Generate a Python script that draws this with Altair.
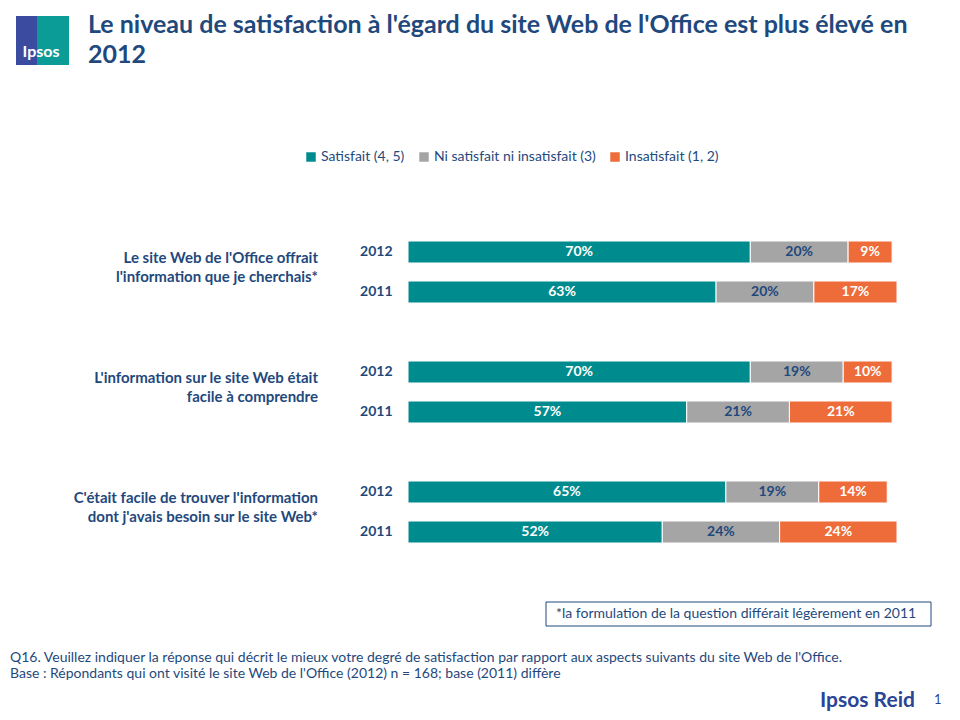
import altair as alt
import pandas as pd

# ---- data ----
groups = [
    "Le site Web de l'Office offrait\nl'information que je cherchais*",
    "L'information sur le site Web était\nfacile à comprendre",
    "C'était facile de trouver l'information\ndont j'avais besoin sur le site Web*",
]
years = ["2012", "2011"]
categories = ["Satisfait (4, 5)", "Ni satisfait ni insatisfait (3)", "Insatisfait (1, 2)"]
colors = ["#008C8F", "#A5A5A5", "#EE6B3A"]
satisfait = [70, 63, 70, 57, 65, 52]
neutre = [20, 20, 19, 21, 19, 24]
insatisfait = [9, 17, 10, 21, 14, 24]

row_domain = ["1|2012", "1|2011", "s1", "2|2012", "2|2011", "s2", "3|2012", "3|2011"]

rows = []
for gi, g in enumerate(groups):
    for yi, yr in enumerate(years):
        k = gi * 2 + yi
        key = f"{gi+1}|{yr}"
        for ci, (cat, vals) in enumerate(zip(categories, [satisfait, neutre, insatisfait])):
            rows.append({"row": key, "cat": cat, "order": ci, "value": vals[k],
                         "label": f"{vals[k]}%"})
df = pd.DataFrame(rows)
gdf = pd.DataFrame({"row": [f"{i+1}|2012" for i in range(3)], "group": groups})

DARK = "#1F497D"
FONT = "Lato"

yenc = alt.Y("row:N", scale=alt.Scale(domain=row_domain, paddingInner=0.45, paddingOuter=0.225),
             axis=alt.Axis(title=None, ticks=False, domain=False, labelPadding=16,
                           labelExpr="indexof(datum.value,'|')>0 ? split(datum.value,'|')[1] : ''",
                           labelFont=FONT, labelFontSize=14, labelFontWeight="bold",
                           labelColor=DARK))
xscale = alt.Scale(domain=[0, 100], nice=False)

base = alt.Chart(df).transform_stack(
    stack="value", groupby=["row"], sort=[alt.SortField("order")], as_=["x0", "x1"]
).transform_calculate(mid="(datum.x0+datum.x1)/2")

bars = base.mark_bar(stroke="white", strokeWidth=1).encode(
    x=alt.X("x0:Q", scale=xscale, axis=None),
    x2="x1:Q",
    y=yenc,
    color=alt.Color("cat:N", scale=alt.Scale(domain=categories, range=colors),
                    legend=alt.Legend(title=None, orient="none", direction="horizontal",
                                      legendX=-104, legendY=-82, symbolType="square",
                                      symbolSize=90, symbolStrokeWidth=0, labelFont=FONT,
                                      labelFontSize=14, labelColor=DARK, labelOffset=3,
                                      labelLimit=400, columnPadding=12)),
)

labels = base.mark_text(font=FONT, fontSize=14, fontWeight="bold", baseline="middle").encode(
    x=alt.X("mid:Q", scale=xscale),
    y=alt.Y("row:N", scale=alt.Scale(domain=row_domain)),
    text="label:N",
    color=alt.condition("datum.order == 1", alt.value(DARK), alt.value("white")),
)

glabels = alt.Chart(gdf).mark_text(font=FONT, fontSize=15, fontWeight="bold", align="right",
                                   baseline="alphabetic", dy=11, lineBreak="\n", lineHeight=19,
                                   color=DARK).encode(
    x=alt.value(-90),
    y=alt.Y("row:N", scale=alt.Scale(domain=row_domain)),
    text="group:N",
)

# ---- decorations (page coords minus plot origin 408,232) ----
def txt(s, x, y, size, weight="normal", color=DARK, font=FONT, align="left"):
    return alt.Chart(pd.DataFrame({"t": [s]})).mark_text(
        font=font, fontSize=size, fontWeight=weight, color=color, align=align,
        baseline="alphabetic").encode(x=alt.value(x - 408), y=alt.value(y - 232), text="t:N")

def rect(x1, y1, x2, y2, fill, stroke=None):
    kw = dict(fill=fill)
    if stroke:
        kw.update(stroke=stroke, strokeWidth=1)
    return alt.Chart(pd.DataFrame({"a": [0]})).mark_rect(**kw).encode(
        x=alt.value(x1 - 408), x2=alt.value(x2 - 408), y=alt.value(y1 - 232), y2=alt.value(y2 - 232))

deco = [
    rect(16, 16, 37, 65, "#3A4BA0"),
    rect(37, 16, 69, 65, "#0B9C98"),
    txt("Ipsos", 41, 57, 16, "bold", "white", align="center"),
    txt("Le niveau de satisfaction à l'égard du site Web de l'Office est plus élevé en", 88, 33, 25, "bold"),
    txt("2012", 88, 63, 25, "bold"),
    rect(546, 602, 931, 626, "white", DARK),
    txt("*la formulation de la question différait légèrement en 2011", 556, 618, 14),
    txt("Q16. Veuillez indiquer la réponse qui décrit le mieux votre degré de satisfaction par rapport aux aspects suivants du site Web de l'Office.", 10, 662, 14),
    txt("Base : Répondants qui ont visité le site Web de l'Office (2012) n = 168;  base (2011) diffère", 10, 678, 14),
    txt("Ipsos Reid", 820, 707, 21, "bold", "#2A4596"),
    txt("1", 934, 704, 13, "normal", "#2A4596"),
]

chart = alt.layer(bars, labels, glabels, *deco).properties(
    width=489, height=320,
    autosize=alt.AutoSizeParams(type="none"),
    padding={"left": 400, "top": 224, "right": 55, "bottom": 160},
    background="white",
).configure_view(stroke=None)

chart.save("out.html", embed_options={"renderer": "svg", "actions": False})
